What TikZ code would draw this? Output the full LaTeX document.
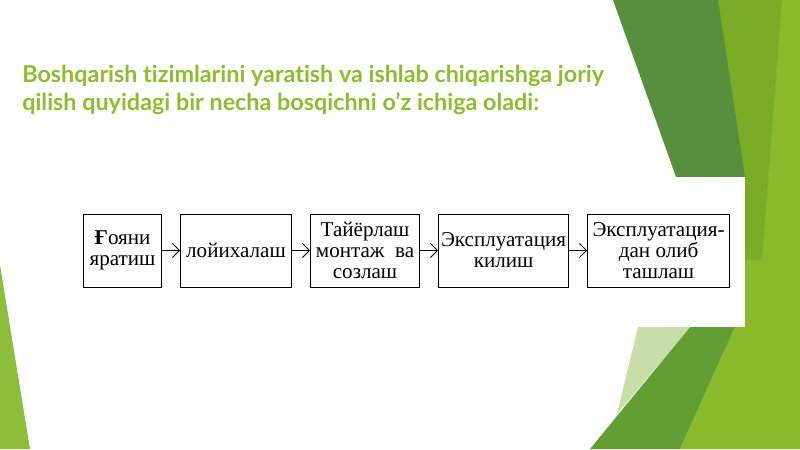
\documentclass[tikz,border=0pt]{standalone}
\usepackage{fontspec}
\setmainfont{Liberation Serif}
\newfontfamily\slidefont[Ligatures={NoCommon,NoRare}]{Lato}
\usepackage{xcolor}
\usetikzlibrary{arrows.meta, positioning}
\definecolor{titlegreen}{RGB}{141, 190, 46}
\definecolor{bandgreen}{RGB}{88, 143, 62}
\definecolor{leafgreen}{RGB}{122, 172, 40}
\definecolor{limegreen}{RGB}{138, 186, 44}
\definecolor{midgreen}{RGB}{98, 158, 52}
\definecolor{palegreen}{RGB}{200, 221, 168}
\definecolor{edgegreen}{RGB}{140, 190, 60}

\begin{document}
\begin{tikzpicture}[
  x=0.025cm, y=-0.025cm,
  node distance=0.45cm,
  stage/.style={rectangle, draw, line width=0.7pt, minimum height=1.825cm, align=center, inner sep=1pt, font=\fontsize{15}{15}\selectfont},
  arrow/.style={-{Straight Barb[length=5pt,width=10pt]}, line width=0.6pt}
]
  % slide background
  \useasboundingbox[fill=white] (0,0) rectangle (800,449);
  \fill[limegreen] (718,0) -- (800,0) -- (800,449) -- (680,449) -- (735,327) -- (745,177) -- cycle;
  \fill[leafgreen] (718,0) -- (782,0) -- (762,260) -- (745,260) -- cycle;
  \fill[bandgreen] (613,0) -- (718,0) -- (745,177) -- (745,250) -- (702,250) -- cycle;
  \fill[midgreen] (690,327) -- (735,327) -- (680,449) -- (590,449) -- cycle;
  \fill[palegreen] (638,327) -- (690,327) -- (617,414) -- cycle;
  \fill[edgegreen] (0,265) -- (30,449) -- (0,449) -- cycle;
  \fill[white] (70,177) rectangle (745,327);

  \node[anchor=north west, align=left, text=titlegreen, inner sep=0pt, font=\slidefont\bfseries\fontsize{16.6}{20}\selectfont] (title) at (22,65)
    {Boshqarish tizimlarini yaratish va ishlab chiqarishga joriy\\qilish quyidagi bir necha bosqichni o’z ichiga oladi:};

  % stages
  \node[stage, minimum width=1.95cm, anchor=west] (goya) at (83,250.5) {\textbf{Ғ}ояни\\яратиш};
  \node[stage, minimum width=2.775cm, right=of goya] (loyiha) {лойихалаш};
  \node[stage, minimum width=2.725cm, right=of loyiha] (tayyor) {Тайёрлаш\\монтаж\ \ ва\\созлаш};
  \node[stage, minimum width=3.25cm, right=of tayyor] (ekspl) {Эксплуатация\\килиш};
  \node[stage, minimum width=3.55cm, right=of ekspl] (chiqar) {Эксплуатация-\\дан олиб\\ташлаш};

  \draw[arrow] (goya) -- (loyiha);
  \draw[arrow] (loyiha) -- (tayyor);
  \draw[arrow] (tayyor) -- (ekspl);
  \draw[arrow] (ekspl) -- (chiqar);
\end{tikzpicture}
\end{document}
